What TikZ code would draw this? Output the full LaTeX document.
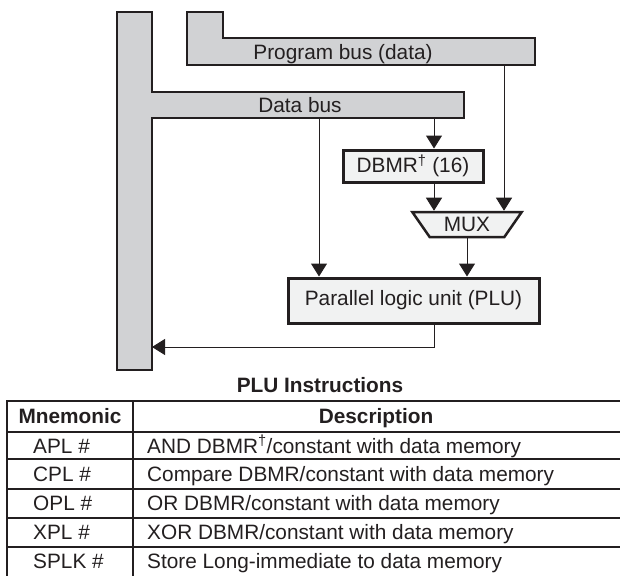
\documentclass[tikz,border=0pt]{standalone}
\usepackage{fontspec}
\setmainfont{Liberation Sans}
\usepackage{xcolor}
\usetikzlibrary{arrows.meta,shapes.geometric}
\definecolor{inkc}{HTML}{231F20}
\definecolor{busg}{HTML}{D1D2D4}
\definecolor{boxg}{HTML}{F1F2F2}
\newcommand{\lbl}{\fontsize{20.8}{24}\selectfont}
\tikzset{
  bus/.style={draw=inkc,fill=busg,line width=1.2pt},
  blk/.style={draw=inkc,fill=boxg,line width=3pt,inner sep=0pt,font=\lbl,text=inkc},
  ar/.style={-{Triangle[length=13pt,width=16pt]},inkc,line width=1pt},
  cell/.style={inner sep=0pt,font=\lbl,text=inkc},
  rule/.style={inkc,line width=1.2pt}
}
\begin{document}
\begin{tikzpicture}[x=1pt,y=-1pt]
\useasboundingbox (0,0) rectangle (620,575);
% buses
\draw[bus] (117,12)--(152,12)--(152,92)--(464,92)--(464,118)--(152,118)--(152,370)--(117,370)--cycle;
\draw[bus] (187,12)--(223,12)--(223,38)--(535,38)--(535,65)--(187,65)--cycle;
\node[cell,anchor=base] (dbus) at (300,112.5) {Data bus};
\node[cell,anchor=base] (pbus) at (343,60) {Program bus (data)};
\coordinate (dtapa) at (434,118);
\coordinate (dtapb) at (319,118);
\coordinate (ptap) at (504,65);
\coordinate (ret) at (152,347);
% units
\node[blk,minimum width=140pt,minimum height=32pt] (dbmr) at (413,166) {DBMR\textsuperscript{\textdagger} (16)};
\node[blk,line width=2.5pt,shape=trapezium,trapezium stretches=true,trapezium angle=53.5,
  shape border rotate=180,minimum width=110pt,minimum height=25pt] (mux) at (467,224.5) {MUX};
\node[blk,minimum width=251pt,minimum height=45pt] (plu) at (413.5,300.5) {Parallel logic unit (PLU)};
% connectors
\draw[ar] (dtapa) -- (dtapa |- dbmr.north);
\draw[ar] (dtapa |- dbmr.south) -- (dtapa |- mux.north);
\draw[ar] (ptap) -- (ptap |- mux.north);
\draw[ar] (dtapb) -- (dtapb |- plu.north);
\draw[ar] (mux.south) -- (mux.south |- plu.north);
\draw[ar] (plu.south -| dtapa) |- (ret);
% table
\node[cell,font=\lbl\bfseries,anchor=base] (ttl) at (320,392) {PLU Instructions};
\draw[rule] (7,401) rectangle (623,578);
\draw[rule] (133,401) -- (133,578);
\foreach \y in {432,459,489,518,547} \draw[rule] (7,\y) -- (623,\y);
\node[cell,font=\lbl\bfseries,anchor=base] (hmn) at (70,423) {Mnemonic};
\node[cell,font=\lbl\bfseries,anchor=base] (hds) at (376,423) {Description};
\foreach \m/\d [count=\i] in {APL \#/{AND DBMR\textsuperscript{\textdagger}/constant with data memory},
  CPL \#/{Compare DBMR/constant with data memory},
  OPL \#/{OR DBMR/constant with data memory},
  XPL \#/{XOR DBMR/constant with data memory},
  SPLK \#/{Store Long-immediate to data memory}}{
  \node[cell,anchor=base west] (mn\i) at (33,424.2+28.8*\i) {\m};
  \node[cell,anchor=base west] (ds\i) at (147,424.2+28.8*\i) {\d};
}
\end{tikzpicture}
\end{document}
